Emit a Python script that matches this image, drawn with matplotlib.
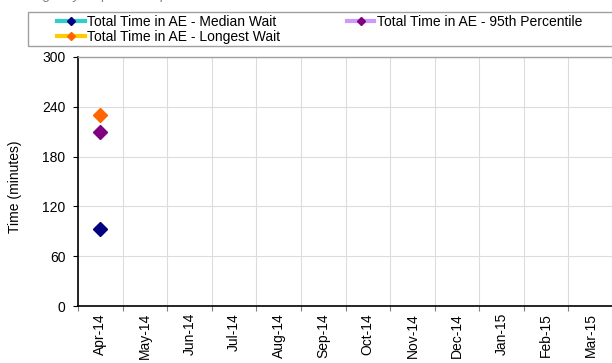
import numpy as np
import matplotlib
matplotlib.use("Agg")
import matplotlib.pyplot as plt
from matplotlib.lines import Line2D
from matplotlib.patches import Rectangle

plt.rcParams['font.family'] = ['Liberation Sans', 'DejaVu Sans']

months = ["Apr-14", "May-14", "Jun-14", "Jul-14", "Aug-14", "Sep-14",
          "Oct-14", "Nov-14", "Dec-14", "Jan-15", "Feb-15", "Mar-15"]
nan = np.nan
median_wait = [93, nan, nan, nan, nan, nan, nan, nan, nan, nan, nan, nan]
pct95_wait = [210, nan, nan, nan, nan, nan, nan, nan, nan, nan, nan, nan]
longest_wait = [230, nan, nan, nan, nan, nan, nan, nan, nan, nan, nan, nan]
y_ticks = [0, 60, 120, 180, 240, 300]

W, H = 612, 363
fig = plt.figure(figsize=(W / 100, H / 100), dpi=100)
ax = fig.add_axes([78 / W, (H - 306) / H, 535 / W, 249 / H])

x = np.arange(len(months))
series = [
    ("Total Time in AE - Median Wait", median_wait, "#33CCCC", "#000080"),
    ("Total Time in AE - Longest Wait", longest_wait, "#FFCC00", "#FF6600"),
    ("Total Time in AE - 95th Percentile", pct95_wait, "#CC99FF", "#800080"),
]
for label, vals, lc, mc in series:
    ax.plot(x, vals, color=lc, lw=3, marker="D", ms=7.5, mfc=mc, mec=mc, zorder=3)

ax.set_xlim(-0.5, len(months) - 0.5)
ax.set_ylim(0, 300)
ax.set_yticks(y_ticks)
ax.set_xticks(x)
ax.set_xticklabels(months, rotation=90, fontsize=10)
ax.set_xticks(np.arange(-0.5, len(months), 1.0), minor=True)
ax.tick_params(axis="x", which="major", length=0, pad=5)
ax.tick_params(axis="x", which="minor", length=3.6, width=0.8, color="#808080", direction="out")
ax.tick_params(axis="y", length=3.6, width=0.8, pad=5.5, labelsize=10, direction="out")

ax.grid(axis="y", which="major", color="#DCDCDC", lw=0.8)
ax.grid(axis="x", which="minor", color="#DCDCDC", lw=0.8)
ax.grid(axis="x", which="major", visible=False)
ax.set_axisbelow(True)

for s in ["left", "bottom"]:
    ax.spines[s].set_color("black")
    ax.spines[s].set_linewidth(1.2)
for s in ["top", "right"]:
    ax.spines[s].set_color("#A0A0A0")
    ax.spines[s].set_linewidth(1.0)

fig.text(15 / W, 1 - 187 / H, "Time (minutes)", rotation=90, ha="center", va="center", fontsize=10)

# heading that is mostly cut off at the very top in the reference
fig.text(10 / W, 1 + 1.0 / H, "Emergency Department performance", style="italic",
         color="#808080", fontsize=10, ha="left", va="baseline")

# legend frame
fig.patches.append(Rectangle((28 / W, 1 - 46 / H), 586 / W, 34 / H, transform=fig.transFigure,
                             fill=False, edgecolor="#A0A0A0", lw=1.0))
handles = [Line2D([0], [0], color=lc, lw=3, marker="D", ms=4.5, mfc=mc, mec=mc)
           for _, _, lc, mc in series]
labels = [s[0] for s in series]
fig.legend(handles, labels, ncol=2, frameon=False, loc="upper left",
           bbox_to_anchor=(57 / W, 1 - 15 / H), borderpad=0, borderaxespad=0,
           handlelength=2.0, handletextpad=0.15, columnspacing=4.8,
           labelspacing=0.08, fontsize=10)

fig.savefig("out.png", dpi=100)
